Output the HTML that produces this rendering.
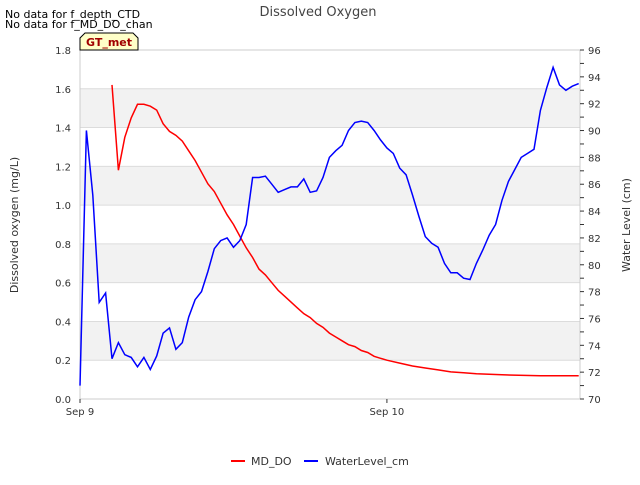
<!DOCTYPE html>
<html><head><meta charset="utf-8"><style>
body{margin:0;background:#fff;font-family:"Liberation Sans","DejaVu Sans",sans-serif}
svg text{font-family:"DejaVu Sans","Liberation Sans",sans-serif}
</style></head><body>
<svg id="c" width="640" height="480" xmlns="http://www.w3.org/2000/svg">
<text x="5" y="18" font-size="11" fill="#000">No data for f_depth_CTD</text>
<text x="5" y="28" font-size="11" fill="#000">No data for f_MD_DO_chan</text>
<text x="318" y="16" font-size="13" fill="#444" text-anchor="middle">Dissolved Oxygen</text>
<g id="plot"></g>
<g>
<path d="M80,50 L80,38 L85,33 L133,33 L138,38 L138,50 Z" fill="#ffffc8" stroke="#000" stroke-width="1"/>
<text x="109" y="46" font-size="11" font-weight="bold" fill="#a00000" text-anchor="middle">GT_met</text>
</g>
<text transform="translate(18,225) rotate(-90)" font-size="11" fill="#333" text-anchor="middle">Dissolved oxygen (mg/L)</text>
<text transform="translate(630,225) rotate(-90)" font-size="11" fill="#333" text-anchor="middle">Water Level (cm)</text>
<g>
<line x1="231" y1="461" x2="245" y2="461" stroke="#f00" stroke-width="2"/>
<text x="251" y="465" font-size="11" fill="#333">MD_DO</text>
<line x1="304" y1="461" x2="318" y2="461" stroke="#00f" stroke-width="2"/>
<text x="325" y="465" font-size="11" fill="#333">WaterLevel_cm</text>
</g>
</svg>
<script>
const blueTimes=[0,0.5,1,1.5,2,2.5,3,3.5,4,4.5,5,5.5,6,6.5,7,7.5,8,8.5,9,9.5,10,10.5,11,11.5,12,12.5,13,13.5,14,14.5,15,15.5,16,16.5,17,17.5,18,18.5,19,19.5,20,20.5,21,21.5,22,22.5,23,23.5,24,24.5,25,25.5,26,26.5,27,27.5,28,28.5,29,29.5,30,30.5,31,31.5,32,32.5,33,33.5,34,34.5,35,35.5,36,36.5,37,37.5,38,38.5,39];
const waterLevel=[71.0,90,85.2,77.2,77.9,73,74.2,73.3,73.1,72.4,73.1,72.2,73.2,74.9,75.3,73.7,74.2,76.1,77.4,78,79.5,81.2,81.8,82,81.3,81.8,83,86.5,86.5,86.6,86,85.4,85.6,85.8,85.8,86.4,85.4,85.5,86.5,88,88.5,88.9,90,90.6,90.7,90.6,90,89.3,88.7,88.3,87.2,86.7,85.2,83.6,82.1,81.6,81.3,80.1,79.4,79.4,79,78.9,80.1,81.1,82.2,83,84.8,86.2,87.1,88,88.3,88.6,91.5,93.2,94.7,93.4,93,93.3,93.5];
const doTimes=[2.5,3,3.5,4,4.5,5,5.5,6,6.5,7,7.5,8,8.5,9,9.5,10,10.5,11,11.5,12,12.5,13,13.5,14,14.5,15,15.5,16,16.5,17,17.5,18,18.5,19,19.5,20,20.5,21,21.5,22,22.5,23,23.5,24,25,26,27,28,29,30,31,33,36,39];
const mdDO=[1.62,1.18,1.35,1.45,1.52,1.52,1.51,1.49,1.42,1.38,1.36,1.33,1.28,1.23,1.17,1.11,1.07,1.01,0.95,0.90,0.84,0.78,0.73,0.67,0.64,0.60,0.56,0.53,0.50,0.47,0.44,0.42,0.39,0.37,0.34,0.32,0.30,0.28,0.27,0.25,0.24,0.22,0.21,0.20,0.185,0.17,0.16,0.15,0.14,0.135,0.13,0.125,0.12,0.12];
const leftTicks=["0.0","0.2","0.4","0.6","0.8","1.0","1.2","1.4","1.6","1.8"];
const rightTicks=["70","72","74","76","78","80","82","84","86","88","90","92","94","96"];
const xTickLabels=["Sep 9","Sep 10"];
const xTickHours=[0,24];

const X0=80,X1=580,Y0=399,Y1=50;
const xs=h=>X0+h*(X1-X0)/39.1;
const yL=v=>Y0-v*(Y0-Y1)/1.8;
const yR=v=>Y0-(v-70)*(Y0-Y1)/26;
const NS="http://www.w3.org/2000/svg";
const g=document.getElementById('plot');
function mk(t,a,p){const e=document.createElementNS(NS,t);for(const k in a)e.setAttribute(k,a[k]);(p||g).appendChild(e);return e;}

for(let i=1;i<leftTicks.length;i+=2){
 const r=mk('rect',{x:X0,y:yL(+leftTicks[i+1]),width:X1-X0,height:yL(+leftTicks[i])-yL(+leftTicks[i+1]),fill:'#f2f2f2'});
 
 
}
leftTicks.forEach(t=>{
 const y=yL(+t);
 const l=mk('line',{x1:X0,x2:X1,y1:y,y2:y,stroke:'#dcdcdc','stroke-width':1});
 
 
 const tx=mk('text',{x:71,y:y+4,'font-size':10,fill:'#333','text-anchor':'end'});
 tx.textContent=t;
 
 
});
const fr=mk('rect',{x:X0,y:Y1,width:X1-X0,height:Y0-Y1,fill:'none',stroke:'#ccc'});


for(let v=70;v<=96;v++){
 const y=yR(v);
 mk('line',{x1:X1,x2:X1+4,y1:y,y2:y,stroke:'#333'});
}
rightTicks.forEach(t=>{
 const tx=mk('text',{x:588,y:yR(+t)+4,'font-size':10,fill:'#333'});
 tx.textContent=t;
 
 
});
xTickLabels.forEach((t,i)=>{
 const x=xs(xTickHours[i]);
 mk('line',{x1:x,x2:x,y1:Y0,y2:Y0+4,stroke:'#333'});
 const tx=mk('text',{x:x,y:Y0+16,'font-size':10,fill:'#333','text-anchor':'middle'});
 tx.textContent=t;
 
 
});
const red=mk('polyline',{points:doTimes.map((t,i)=>xs(t).toFixed(1)+','+yL(mdDO[i]).toFixed(1)).join(' '),fill:'none',stroke:'#f00','stroke-width':1.5});


const blue=mk('polyline',{points:blueTimes.map((t,i)=>xs(t).toFixed(1)+','+yR(waterLevel[i]).toFixed(1)).join(' '),fill:'none',stroke:'#00f','stroke-width':1.5});


</script>
</body></html>
